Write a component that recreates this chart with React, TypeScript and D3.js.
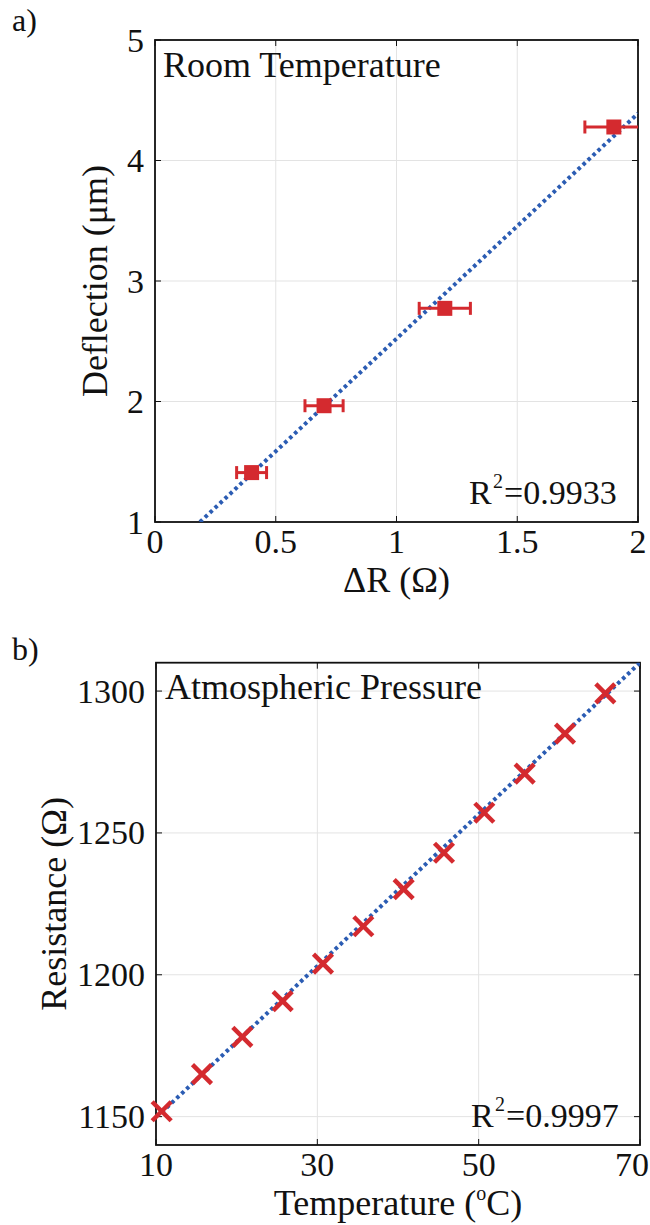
import React from "react";
import { scaleLinear, line } from "d3";

// panel a) room temperature
const dR = [0.4, 0.7, 1.2, 1.9];
const deflection = [1.41, 1.965, 2.773, 4.278];
const dRErr = [0.062, 0.079, 0.106, 0.12];
const fitAX = [0.186, 2.0];
const fitAY = [1.0, 4.39];
const xTicksA = [0, 0.5, 1, 1.5, 2];
const yTicksA = [1, 2, 3, 4, 5];

// panel b) atmospheric pressure
const temps = [10.7, 15.7, 20.7, 25.7, 30.7, 35.7, 40.7, 45.7, 50.7, 55.7, 60.7, 65.7];
const resistance = [1151.9, 1165.0, 1178.1, 1190.7, 1203.9, 1217.1, 1230.2, 1243.0, 1257.1, 1270.9, 1285.0, 1299.2];
const fitBX = [10.7, 70];
const fitBY = [1151.5, 1310];
const xTicksB = [10, 30, 50, 70];
const yTicksB = [1150, 1200, 1250, 1300];

const RED = "#d42a2f";
const BLUE = "#2b5cb3";
const FONT = "'Liberation Serif', 'Times New Roman', serif";

type Box = { left: number; right: number; top: number; bottom: number };

function Frame({ box, x, y, xTicks, yTicks, id }: any) {
  const tl = 6;
  return (
    <g>
      <defs>
        <clipPath id={id}>
          <rect x={box.left} y={box.top} width={box.right - box.left} height={box.bottom - box.top} />
        </clipPath>
      </defs>
      {xTicks.map((t: number, i: number) => (
        <line key={"gx" + i} x1={x(t)} x2={x(t)} y1={box.top} y2={box.bottom} stroke="#e3e3e3" strokeWidth={1} />
      ))}
      {yTicks.map((t: number, i: number) => (
        <line key={"gy" + i} x1={box.left} x2={box.right} y1={y(t)} y2={y(t)} stroke="#e3e3e3" strokeWidth={1} />
      ))}
      <rect x={box.left} y={box.top} width={box.right - box.left} height={box.bottom - box.top}
        fill="none" stroke="#111" strokeWidth={1.8} />
      {xTicks.map((t: number, i: number) => (
        <g key={"tx" + i} stroke="#111" strokeWidth={1}>
          <line x1={x(t)} x2={x(t)} y1={box.bottom} y2={box.bottom - tl} />
          <line x1={x(t)} x2={x(t)} y1={box.top} y2={box.top + tl} />
        </g>
      ))}
      {yTicks.map((t: number, i: number) => (
        <g key={"ty" + i} stroke="#111" strokeWidth={1}>
          <line x1={box.left} x2={box.left + tl} y1={y(t)} y2={y(t)} />
          <line x1={box.right} x2={box.right - tl} y1={y(t)} y2={y(t)} />
        </g>
      ))}
      {xTicks.map((t: number, i: number) => {
        // keep a label inside the page edge if it would be cut
        const half = String(t).length * 8.5;
        const px = Math.min(x(t), 650 - half - 1);
        return (
          <text key={"lx" + i} x={px} y={box.bottom + 31} textAnchor="middle" fontSize={34} fill="#111">
            {String(t)}
          </text>
        );
      })}
      {yTicks.map((t: number, i: number) => (
        <text key={"ly" + i} x={box.left - 11} y={y(t) + 11.5} textAnchor="end" fontSize={34} fill="#111">
          {String(t)}
        </text>
      ))}
    </g>
  );
}

function R2({ box, value }: { box: Box; value: string }) {
  const bx = box.right - 169;
  const by = box.bottom - 18;
  return (
    <g fill="#111">
      <text x={bx} y={by} fontSize={34}>R</text>
      <text x={bx + 24} y={by - 16} fontSize={20}>2</text>
      <text x={bx + 35} y={by} fontSize={34}>{"=" + value}</text>
    </g>
  );
}

export default function App() {
  const boxA: Box = { left: 155, right: 638, top: 40, bottom: 522 };
  const boxB: Box = { left: 156, right: 640, top: 662.7, bottom: 1145 };

  const xA = scaleLinear().domain([0, 2]).range([boxA.left, boxA.right]);
  const yA = scaleLinear().domain([1, 5]).range([boxA.bottom, boxA.top]);
  const xB = scaleLinear().domain([10, 70]).range([boxB.left, boxB.right]);
  const yB = scaleLinear().domain([1140, 1310]).range([boxB.bottom, boxB.top]);

  const fitLineA = line<number>().x((d) => xA(d)).y((_, i) => yA(fitAY[i]))(fitAX) || "";
  const fitLineB = line<number>().x((d) => xB(d)).y((_, i) => yB(fitBY[i]))(fitBX) || "";

  const sq = 15;
  const cap = 6.5;
  const xm = 9.5;

  return (
    <svg width={650} height={1225} style={{ position: "absolute", left: 0, top: 0, background: "#fff" }}
      fontFamily={FONT}>
      <rect width={650} height={1225} fill="#fff" />

      {/* a) */}
      <text x={12} y={31} fontSize={32} fill="#111">a)</text>
      <Frame box={boxA} x={xA} y={yA} xTicks={xTicksA} yTicks={yTicksA} id="clipA" />
      <path d={fitLineA} fill="none" stroke={BLUE} strokeWidth={4} strokeDasharray="3.5 3.3" clipPath="url(#clipA)" />
      <g clipPath="url(#clipA)" stroke={RED} strokeWidth={3}>
        {dR.map((d, i) => (
          <g key={i}>
            <line x1={xA(d - dRErr[i])} x2={xA(d + dRErr[i])} y1={yA(deflection[i])} y2={yA(deflection[i])} />
            <line x1={xA(d - dRErr[i])} x2={xA(d - dRErr[i])} y1={yA(deflection[i]) - cap} y2={yA(deflection[i]) + cap} />
            <line x1={xA(d + dRErr[i])} x2={xA(d + dRErr[i])} y1={yA(deflection[i]) - cap} y2={yA(deflection[i]) + cap} />
          </g>
        ))}
      </g>
      {dR.map((d, i) => (
        <rect key={i} x={xA(d) - sq / 2} y={yA(deflection[i]) - sq / 2} width={sq} height={sq} fill={RED} />
      ))}
      <text x={163} y={76.7} fontSize={36} fill="#111">Room Temperature</text>
      <R2 box={boxA} value="0.9933" />
      <text x={(boxA.left + boxA.right) / 2} y={592} textAnchor="middle" fontSize={36} fill="#111">
        ΔR (Ω)
      </text>
      <text transform={`translate(107,${(boxA.top + boxA.bottom) / 2}) rotate(-90)`} textAnchor="middle"
        fontSize={36} fill="#111">
        Deflection (μm)
      </text>

      {/* b) */}
      <text x={12} y={660} fontSize={32} fill="#111">b)</text>
      <Frame box={boxB} x={xB} y={yB} xTicks={xTicksB} yTicks={yTicksB} id="clipB" />
      <path d={fitLineB} fill="none" stroke={BLUE} strokeWidth={4} strokeDasharray="3.5 3.3" clipPath="url(#clipB)" />
      <g stroke={RED} strokeWidth={4.5}>
        {temps.map((t, i) => (
          <g key={i}>
            <line x1={xB(t) - xm} x2={xB(t) + xm} y1={yB(resistance[i]) - xm} y2={yB(resistance[i]) + xm} />
            <line x1={xB(t) - xm} x2={xB(t) + xm} y1={yB(resistance[i]) + xm} y2={yB(resistance[i]) - xm} />
          </g>
        ))}
      </g>
      <text x={165} y={699.3} fontSize={36} fill="#111">Atmospheric Pressure</text>
      <R2 box={boxB} value="0.9997" />
      <text x={(boxB.left + boxB.right) / 2} y={1215} textAnchor="middle" fontSize={36} fill="#111">
        Temperature (<tspan fontSize={20} dy={-15}>o</tspan><tspan dy={15}>C)</tspan>
      </text>
      <text transform={`translate(66,${(boxB.top + boxB.bottom) / 2}) rotate(-90)`} textAnchor="middle"
        fontSize={36} fill="#111">
        Resistance (Ω)
      </text>
    </svg>
  );
}
